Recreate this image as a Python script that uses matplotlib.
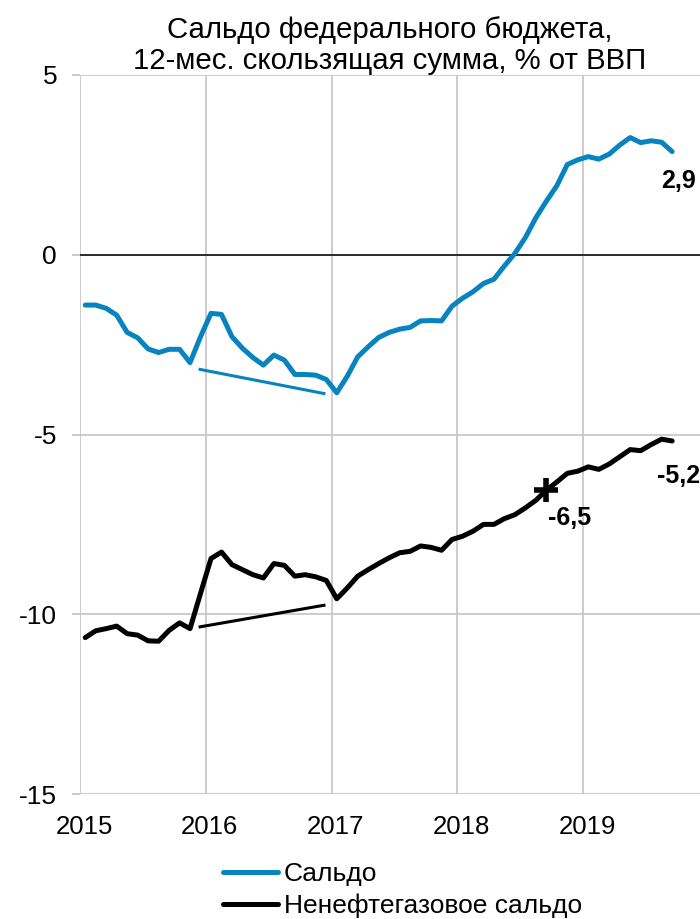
import numpy as np
import matplotlib
matplotlib.use("Agg")
import matplotlib.pyplot as plt
from matplotlib.transforms import ScaledTranslation

plt.rcParams['font.family'] = ['Liberation Sans', 'DejaVu Sans']

# Monthly data, Jan 2015 .. Sep 2019
start_year = 2015
n_months = 57
saldo = [-1.40, -1.40, -1.49, -1.68, -2.16, -2.31, -2.62, -2.72, -2.63, -2.63,
         -3.00, -2.28, -1.63, -1.66, -2.28, -2.60, -2.86, -3.07, -2.79, -2.93,
         -3.33, -3.33, -3.35, -3.47, -3.84, -3.38, -2.84, -2.56, -2.30, -2.16,
         -2.07, -2.02, -1.84, -1.83, -1.84, -1.43, -1.21, -1.03, -0.80, -0.68,
         -0.31, 0.04, 0.48, 1.03, 1.49, 1.92, 2.51, 2.64, 2.73, 2.66,
         2.80, 3.05, 3.26, 3.12, 3.17, 3.13, 2.87]
non_oil = [-10.65, -10.46, -10.40, -10.33, -10.54, -10.58, -10.74, -10.75, -10.45, -10.24,
           -10.40, -9.42, -8.45, -8.27, -8.62, -8.76, -8.90, -8.99, -8.59, -8.64,
           -8.94, -8.90, -8.96, -9.06, -9.57, -9.27, -8.94, -8.76, -8.59, -8.43,
           -8.29, -8.25, -8.10, -8.14, -8.22, -7.92, -7.83, -7.69, -7.50, -7.50,
           -7.34, -7.23, -7.04, -6.83, -6.55, -6.32, -6.08, -6.02, -5.90, -5.97,
           -5.82, -5.62, -5.42, -5.45, -5.28, -5.13, -5.18]

# Trend lines (2016)
trend_x = [2015.955, 2016.94]
trend_saldo = [-3.19, -3.86]
trend_non_oil = [-10.35, -9.75]

marker_index = 44          # Sep 2018
marker_label = "-6,5"
end_label_saldo = "2,9"
end_label_non_oil = "-5,2"

year_ticks = [2015, 2016, 2017, 2018, 2019]
y_ticks = [-15, -10, -5, 0, 5]

series_names = ["Сальдо", "Ненефтегазовое сальдо"]
title = "Сальдо федерального бюджета,\n12-мес. скользящая сумма, % от ВВП"

blue = '#0784C0'
x = start_year + (np.arange(n_months) + 0.5) / 12.0

fig = plt.figure(figsize=(7.0, 9.19), dpi=100)
ax = fig.add_axes([80/700, 1 - 794/919, 1 - 80/700, (794 - 75)/919])

ax.set_xlim(2015, 2019.93)
ax.set_ylim(-15, 5)

for s in ax.spines.values():
    s.set_visible(False)

ax.set_xticks(year_ticks)
ax.set_xticklabels([str(y) for y in year_ticks], fontsize=18.5)
ax.set_yticks(y_ticks)
ax.set_yticklabels([str(v) for v in y_ticks], fontsize=19)
ax.tick_params(axis='x', length=0, pad=15)
ax.tick_params(axis='y', length=6, width=1.2, color='#c0c0c0', pad=10.5)
offset = ScaledTranslation(4/100, 0, fig.dpi_scale_trans)
for lbl in ax.get_xticklabels():
    lbl.set_transform(lbl.get_transform() + offset)
ax.grid(True, color='#c8c8c8', linewidth=1.3)
ax.set_axisbelow(True)
ax.axhline(0, color='black', linewidth=1.1, zorder=2)

ax.plot(x, saldo, color=blue, linewidth=3.6, solid_capstyle='round', solid_joinstyle='round',
        label=series_names[0], zorder=3)
ax.plot(x, non_oil, color='black', linewidth=3.6, solid_capstyle='round', solid_joinstyle='round',
        label=series_names[1], zorder=3)
ax.plot(trend_x, trend_saldo, color=blue, linewidth=2.2, zorder=3)
ax.plot(trend_x, trend_non_oil, color='black', linewidth=2.2, zorder=3)

ax.plot([x[marker_index]], [non_oil[marker_index]], marker='+', markersize=17,
        markeredgewidth=4, color='black', zorder=4)

ax.annotate(marker_label, (x[marker_index], non_oil[marker_index]), xytext=(1, -20),
            textcoords='offset points', ha='left', va='center', fontsize=18,
            fontweight='bold', annotation_clip=False)
ax.annotate(end_label_saldo, (x[-1], saldo[-1]), xytext=(-8, -21),
            textcoords='offset points', ha='left', va='center', fontsize=18,
            fontweight='bold', annotation_clip=False)
ax.annotate(end_label_non_oil, (x[-1], non_oil[-1]), xytext=(-11, -25.5),
            textcoords='offset points', ha='left', va='center', fontsize=18,
            fontweight='bold', annotation_clip=False)

ax.set_title(title, fontsize=21.2, pad=4, linespacing=1.12)

fig.legend(loc='upper left', bbox_to_anchor=(223/700, 1 - 862/919), frameon=False,
           fontsize=19, handlelength=2.1, handletextpad=0.2, labelspacing=0.3,
           borderpad=0, borderaxespad=0)

fig.savefig('out.png', dpi=100)
